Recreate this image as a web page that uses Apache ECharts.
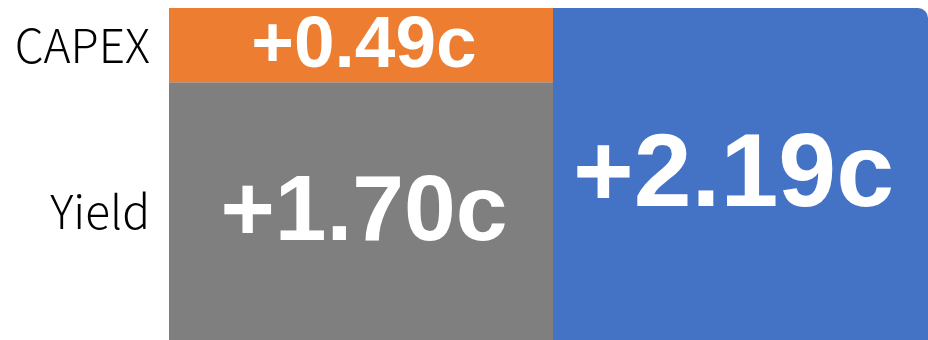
<!DOCTYPE html>
<html>
<head>
<meta charset="utf-8">
<script src="https://cdn.jsdelivr.net/npm/echarts@6/dist/echarts.min.js"></script>
<style>
  html, body { margin: 0; padding: 0; background: #ffffff; }
  #chart { width: 928px; height: 340px; }
</style>
</head>
<body>
<div id="chart"></div>
<script>
// Cost-gain breakdown: two components stacked on the left, total on the right
const componentNames = ['Yield', 'CAPEX'];
const componentValues = [1.70, 0.49];
const totalValue = 2.19;
const columns = ['components', 'total'];

const COLORS = { Yield: '#7F7F7F', CAPEX: '#ED7D31', total: '#4472C4' };
const VALUE_FONT = '"Liberation Sans", Arial, sans-serif';
const NAME_FONT = '"Noto Sans CJK SC", "Noto Sans", sans-serif';
const valueFontSizes = { Yield: 93, CAPEX: 73, total: 104 };
const valueOffsets = { Yield: [3, 3], CAPEX: [3, 2], total: [-7, 3] };

const fmt = v => '+' + v.toFixed(2) + 'c';
const yMax = totalValue;

const chart = echarts.init(document.getElementById('chart'), null, { renderer: 'canvas' });

const series = [];
// left column: stacked components with value labels inside
componentNames.forEach((name, i) => {
  series.push({
    name: name,
    type: 'bar',
    xAxisIndex: 0, yAxisIndex: 0,
    stack: 'parts',
    barWidth: '100%',
    data: [componentValues[i]],
    itemStyle: { color: COLORS[name] },
    label: {
      show: true, position: 'inside',
      offset: valueOffsets[name],
      formatter: p => fmt(p.value),
      color: '#ffffff', fontFamily: VALUE_FONT, fontWeight: 'bold',
      fontSize: valueFontSizes[name]
    },
    silent: true
  });
});
// transparent twin stack carrying the component names on the left
componentNames.forEach((name, i) => {
  series.push({
    name: name + ' name',
    type: 'bar',
    xAxisIndex: 0, yAxisIndex: 0,
    stack: 'names',
    barWidth: '100%',
    barGap: '-100%',
    data: [componentValues[i]],
    itemStyle: { color: 'rgba(0,0,0,0)' },
    label: {
      show: true, position: 'left', distance: 19,
      formatter: () => name,
      color: '#000000', fontFamily: NAME_FONT, fontWeight: 300,
      fontSize: 46
    },
    silent: true,
    z: 1
  });
});
// right column: total
series.push({
  name: 'total',
  type: 'bar',
  xAxisIndex: 1, yAxisIndex: 1,
  barWidth: '100%',
  data: [totalValue],
  itemStyle: { color: COLORS.total, borderRadius: [0, 10, 0, 0] },
  label: {
    show: true, position: 'inside',
    offset: valueOffsets.total,
    formatter: p => fmt(p.value),
    color: '#ffffff', fontFamily: VALUE_FONT, fontWeight: 'bold',
    fontSize: valueFontSizes.total
  },
  silent: true
});

chart.setOption({
  animation: false,
  backgroundColor: '#ffffff',
  grid: [
    { left: 169, width: 384, top: 8, bottom: 0 },
    { left: 553, right: 0, top: 8, bottom: 0 }
  ],
  xAxis: [
    { type: 'category', gridIndex: 0, data: [columns[0]], show: false },
    { type: 'category', gridIndex: 1, data: [columns[1]], show: false }
  ],
  yAxis: [
    { type: 'value', gridIndex: 0, min: 0, max: yMax, show: false },
    { type: 'value', gridIndex: 1, min: 0, max: yMax, show: false }
  ],
  series: series
});
</script>
</body>
</html>
